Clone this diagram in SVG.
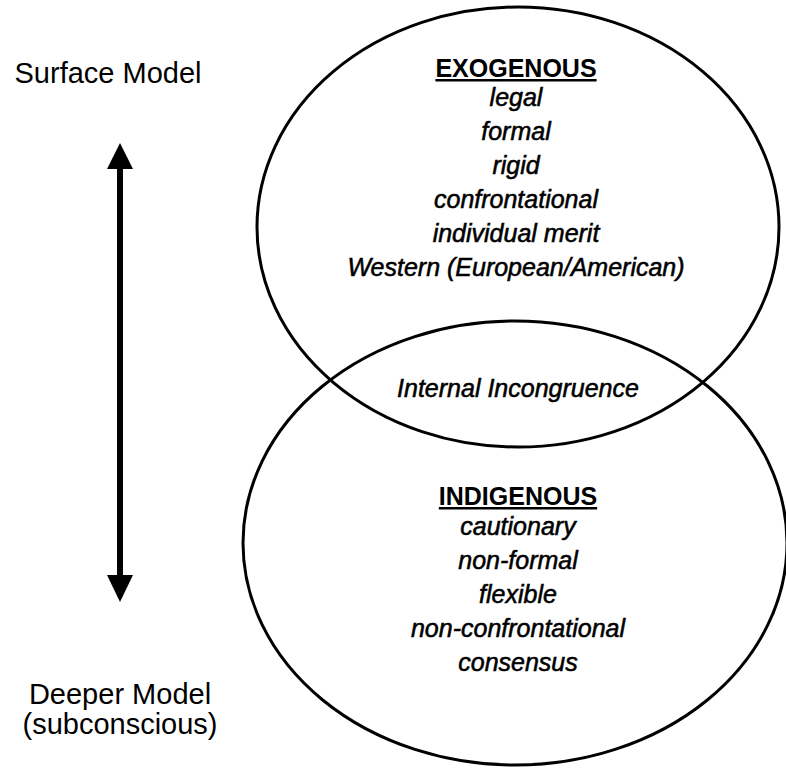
<svg xmlns="http://www.w3.org/2000/svg" width="786" height="768" viewBox="0 0 786 768">
<style>
.side{font-family:"Liberation Sans",Arial,sans-serif;font-size:29px;fill:#000;text-anchor:middle}
.head{font-family:"Liberation Sans",Arial,sans-serif;font-size:25px;font-weight:bold;text-decoration:underline;fill:#000;text-anchor:middle}
.item{font-family:"Liberation Sans",Arial,sans-serif;font-size:25px;font-style:italic;fill:#000;stroke:#000;stroke-width:0.55;text-anchor:middle}
.ell{fill:none;stroke:#000;stroke-width:3}
</style>
<rect width="786" height="768" fill="#fff"/>
<g id="exogenous">
<ellipse class="ell" cx="518" cy="227" rx="261" ry="220"/>
<text class="head" x="516" y="77">EXOGENOUS</text>
<text class="item" x="516" y="106">legal</text>
<text class="item" x="516" y="140">formal</text>
<text class="item" x="516" y="174">rigid</text>
<text class="item" x="516" y="208">confrontational</text>
<text class="item" x="516" y="242">individual merit</text>
<text class="item" x="516" y="276">Western (European/American)</text>
</g>
<g id="indigenous">
<ellipse class="ell" cx="515" cy="543" rx="272" ry="222"/>
<text class="head" x="518" y="505">INDIGENOUS</text>
<text class="item" x="518" y="535">cautionary</text>
<text class="item" x="518" y="569">non-formal</text>
<text class="item" x="518" y="603">flexible</text>
<text class="item" x="518" y="637">non-confrontational</text>
<text class="item" x="518" y="671">consensus</text>
</g>
<g id="overlap">
<text class="item" x="518" y="397">Internal Incongruence</text>
</g>
<g id="surface">
<text class="side" x="108" y="83">Surface Model</text>
</g>
<g id="deeper">
<text class="side" x="120" y="704">Deeper Model</text>
<text class="side" x="120" y="734">(subconscious)</text>
</g>
<g id="connectors">
<line x1="120" y1="165" x2="120" y2="579" stroke="#000" stroke-width="6"/>
<polygon points="120,143 107,169 133,169" fill="#000"/>
<polygon points="120,602 107,575 133,575" fill="#000"/>
</g>
</svg>
